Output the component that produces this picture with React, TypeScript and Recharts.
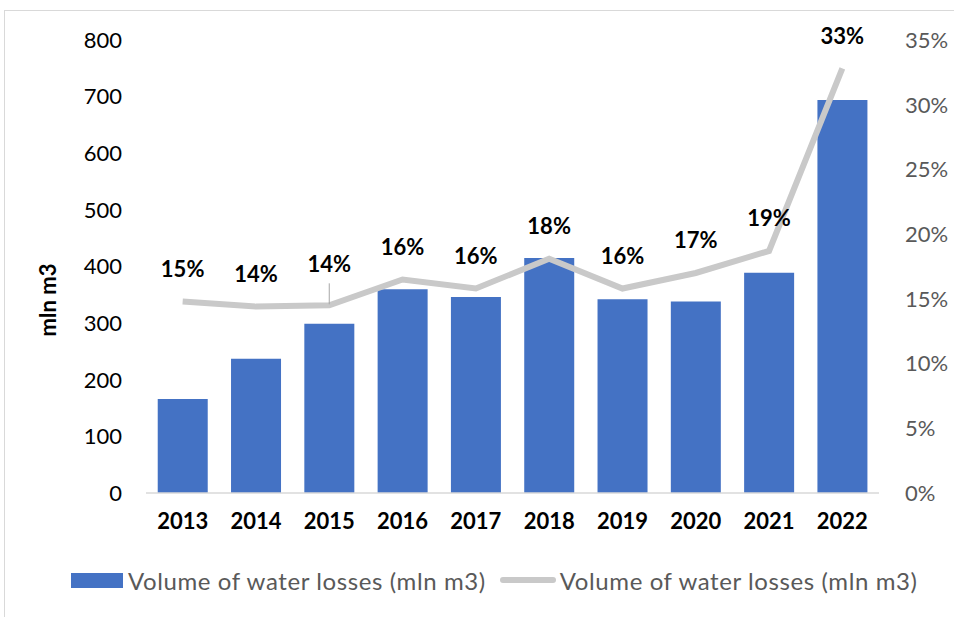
import React from "react";
import {
  ComposedChart,
  Bar,
  Line,
  XAxis,
  YAxis,
  Legend,
  LabelList,
  Label,
} from "recharts";

// Perdas de agua por ano (volume + participacao %)
const years = ["2013", "2014", "2015", "2016", "2017", "2018", "2019", "2020", "2021", "2022"];
const lossVolume = [166, 237, 299, 360, 346, 415, 342, 338, 389, 694];
const lossShare = [14.8, 14.4, 14.5, 16.5, 15.8, 18.1, 15.8, 17.0, 18.7, 32.8];
const shareLabels = ["15%", "14%", "14%", "16%", "16%", "18%", "16%", "17%", "19%", "33%"];
const leftTicks = [0, 100, 200, 300, 400, 500, 600, 700, 800];
const rightTicks = [0, 5, 10, 15, 20, 25, 30, 35];
const seriesName = "Volume of water losses (mln m3)";

const data = years.map((year, i) => ({
  year,
  volume: lossVolume[i],
  share: lossShare[i],
  label: shareLabels[i],
}));

const FONT = "Lato, 'Open Sans', sans-serif";
const BLUE = "#4472C4";
const GRAY_LINE = "#C9C9C9";
const AXIS_TEXT = "#595959";

// label deslocado com linha guia (igual ao grafico original)
const LEADER_INDEX = 2;

function ShareLabel(props: any) {
  const { x, y, index } = props;
  const text = shareLabels[index];
  const lifted = index === LEADER_INDEX;
  const ty = y - (lifted ? 42 : 33);
  return (
    <g>
      {lifted && (
        <line x1={x} x2={x} y1={y - 22} y2={y - 1} stroke="#A6A6A6" strokeWidth={1} />
      )}
      <text
        x={x}
        y={ty}
        textAnchor="middle"
        dominantBaseline="central"
        fontFamily={FONT}
        fontWeight={700}
        fontSize={22}
        fill="#000"
      >
        {text}
      </text>
    </g>
  );
}

function LegendContent() {
  const item = { display: "flex", alignItems: "center" } as const;
  const text = { letterSpacing: 0.6 } as const;
  return (
    <div
      style={{
        height: 40,
        display: "flex",
        alignItems: "center",
        paddingLeft: 71,
        fontFamily: FONT,
        fontSize: 24,
        color: AXIS_TEXT,
        whiteSpace: "nowrap",
      }}
    >
      <div style={item}>
        <span style={{ width: 52, height: 15, background: BLUE, marginRight: 5 }} />
        <span style={text}>{seriesName}</span>
      </div>
      <div style={{ ...item, marginLeft: 14 }}>
        <span style={{ width: 56, height: 6, background: GRAY_LINE, marginRight: 4, borderRadius: 3 }} />
        <span style={text}>{seriesName}</span>
      </div>
    </div>
  );
}

function YTitle() {
  const cx = 47;
  const cy = 300;
  return (
    <text
      x={cx}
      y={cy}
      transform={`rotate(-90 ${cx} ${cy})`}
      textAnchor="middle"
      dominantBaseline="central"
      fontFamily={FONT}
      fontWeight={700}
      fontSize={22}
      fill="#000"
    >
      mln m3
    </text>
  );
}

export default function App() {
  return (
    <div
      style={{
        position: "absolute",
        left: 0,
        top: 0,
        width: 954,
        height: 617,
        overflow: "hidden",
        background: "#fff",
      }}
    >
      {/* moldura do grafico */}
      <div
        style={{
          position: "absolute",
          left: 4,
          top: 10,
          width: 1000,
          height: 700,
          border: "1px solid #D9D9D9",
        }}
      />
      <div style={{ position: "absolute", left: 0, top: 0 }}>
        <ComposedChart
          width={954}
          height={617}
          data={data}
          margin={{ top: 40, right: 0, left: 0, bottom: 17 }}
          barCategoryGap="16%"
        >
          <XAxis
            dataKey="year"
            axisLine={{ stroke: "#D9D9D9", strokeWidth: 1.5 }}
            tickLine={false}
            tickSize={0}
            tickMargin={20}
            height={67}
            interval={0}
            tick={{ fontFamily: FONT, fontWeight: 700, fontSize: 22, fill: "#000" }}
          />
          <YAxis
            yAxisId="left"
            domain={[0, 800]}
            ticks={leftTicks}
            width={146}
            axisLine={false}
            tickLine={false}
            tickSize={0}
            tickMargin={24}
            interval={0}
            tick={{ fontFamily: FONT, fontSize: 22, fill: "#000" }}
          >
            <Label content={<YTitle />} />
          </YAxis>
          <YAxis
            yAxisId="right"
            orientation="right"
            domain={[0, 35]}
            ticks={rightTicks}
            width={75}
            axisLine={false}
            tickLine={false}
            tickSize={0}
            tickMargin={26}
            interval={0}
            tickFormatter={(v: number) => `${v}%`}
            tick={{ fontFamily: FONT, fontSize: 22, fill: AXIS_TEXT, textAnchor: "start" }}
          />
          <Legend verticalAlign="bottom" content={<LegendContent />} />
          <Bar
            yAxisId="left"
            dataKey="volume"
            name={seriesName}
            fill={BLUE}
            isAnimationActive={false}
          />
          <Line
            yAxisId="right"
            dataKey="share"
            name={seriesName}
            stroke={GRAY_LINE}
            strokeWidth={6}
            dot={false}
            activeDot={false}
            type="linear"
            isAnimationActive={false}
          >
            <LabelList dataKey="label" content={<ShareLabel />} />
          </Line>
        </ComposedChart>
      </div>
    </div>
  );
}
